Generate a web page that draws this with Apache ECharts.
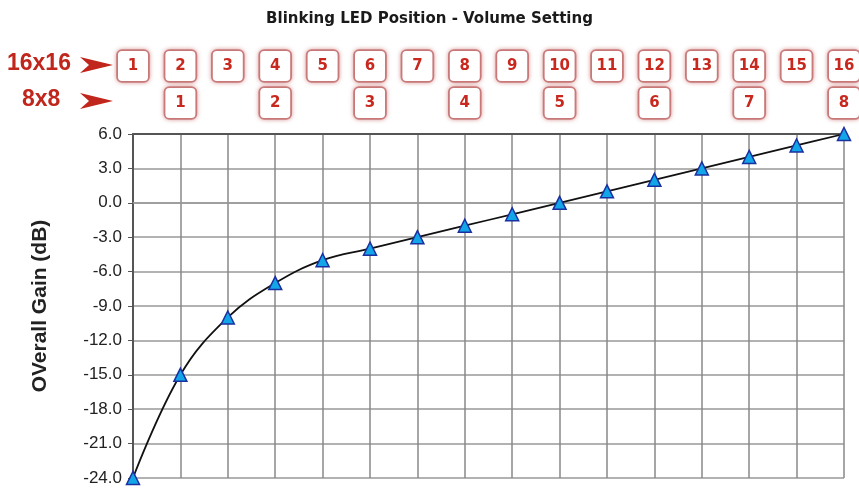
<!DOCTYPE html>
<html>
<head>
<meta charset="utf-8">
<script src="https://cdn.jsdelivr.net/npm/echarts@6/dist/echarts.min.js"></script>
<style>html,body{margin:0;padding:0;background:#fff;}#c{width:859px;height:489px;}</style>
</head>
<body>
<div id="c"></div>
<script>
// Data
var positions = [1,2,3,4,5,6,7,8,9,10,11,12,13,14,15,16];
var gain = [-24,-15,-10,-7,-5,-4,-3,-2,-1,0,1,2,3,4,5,6];
var labels16 = ['1','2','3','4','5','6','7','8','9','10','11','12','13','14','15','16'];
var labels8  = ['','1','','2','','3','','4','','5','','6','','7','','8'];

var chart = echarts.init(document.getElementById('c'));
var boxStyle = {
  box: {
    width: 24, height: 26, lineHeight: 26, padding: [2, 3],
    align: 'center', verticalAlign: 'middle',
    color: '#c8281e', fontSize: 15, fontWeight: 'bold', fontFamily: 'DejaVu Sans',
    backgroundColor: '#fff', borderColor: '#c98080', borderWidth: 1.8, borderRadius: 4,
    shadowColor: 'rgba(200,90,90,0.5)', shadowBlur: 4
  }
};
function labelFor(arr) {
  return function (v) {
    var i = positions.indexOf(v);
    if (i < 0 || !arr[i]) return '';
    return '{box|' + arr[i] + '}';
  };
}
var pts = positions.map(function (p, i) { return [p, gain[i]]; });

chart.setOption({
  animation: false,
  title: {
    text: 'Blinking LED Position - Volume Setting',
    left: 'center', top: 7,
    textStyle: { fontFamily: 'DejaVu Sans', fontSize: 15, fontWeight: 'bold', color: '#1a1a1a' }
  },
  grid: { left: 133, right: 15, top: 134, bottom: 11, containLabel: false, outerBoundsMode: 'none' },
  xAxis: [
    {
      type: 'value', min: 1, max: 16, interval: 1, position: 'bottom',
      axisLabel: { show: false },
      axisTick: { show: false },
      axisLine: { show: true, lineStyle: { color: '#999', width: 1.5 } },
      splitLine: { show: true, lineStyle: { color: '#888', width: 1.5 } }
    },
    {
      type: 'value', min: 1, max: 16, interval: 1, position: 'top',
      axisLabel: { show: true, margin: 55, formatter: labelFor(labels16), rich: boxStyle },
      axisTick: { show: false },
      axisLine: { show: true, lineStyle: { color: '#555', width: 2 } },
      splitLine: { show: false }
    },
    {
      type: 'value', min: 1, max: 16, interval: 1, position: 'top',
      axisLabel: { show: true, margin: 18, formatter: labelFor(labels8), rich: boxStyle },
      axisTick: { show: false },
      axisLine: { show: false },
      splitLine: { show: false }
    }
  ],
  yAxis: {
    type: 'value', min: -24, max: 6, interval: 3,
    name: 'OVerall Gain (dB)', nameLocation: 'middle', nameGap: 82,
    nameTextStyle: { fontFamily: 'Liberation Sans', fontSize: 21, fontWeight: 'bold', color: '#222' },
    axisLabel: {
      margin: 11, fontFamily: 'Liberation Sans', fontSize: 17, color: '#222',
      formatter: function (v) { return v.toFixed(1); }
    },
    axisTick: { show: true, length: 5, lineStyle: { color: '#555' } },
    axisLine: { show: true, lineStyle: { color: '#555', width: 2 } },
    splitLine: { show: true, lineStyle: { color: '#999', width: 1.5 } }
  },
  graphic: [
    { type: 'text', left: 7, top: 52, style: { text: '16x16', font: 'bold 23px "Liberation Sans"', fill: '#c0261c' } },
    { type: 'text', left: 22, top: 88, style: { text: '8x8', font: 'bold 23px "Liberation Sans"', fill: '#c0261c' } },
    { type: 'polygon', shape: { points: [[80,57],[113,65],[80,73],[89,65]] }, style: { fill: '#c0261c' } },
    { type: 'polygon', shape: { points: [[80,93],[113,101],[80,109],[89,101]] }, style: { fill: '#c0261c' } }
  ],
  series: [{
    type: 'line', data: pts, xAxisIndex: 0, smooth: 0.4,
    lineStyle: { color: '#111', width: 1.8 },
    symbol: 'triangle', symbolSize: 13,
    itemStyle: { color: '#12a6e8', borderColor: '#1a2fa0', borderWidth: 1.5 },
    clip: false, z: 5
  }]
});
</script>
</body>
</html>
